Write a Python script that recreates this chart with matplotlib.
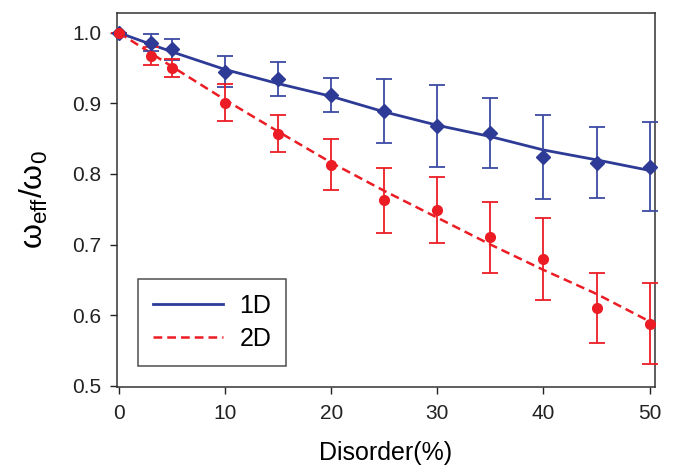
import matplotlib

matplotlib.use("Agg")
import matplotlib.pyplot as plt

plt.rcParams["font.family"] = ["Liberation Sans", "DejaVu Sans"]
plt.rcParams["mathtext.fontset"] = "custom"
plt.rcParams["mathtext.rm"] = "Liberation Sans"
plt.rcParams["mathtext.it"] = "Liberation Sans:italic"
plt.rcParams["mathtext.default"] = "regular"

# measured points
disorder = [0, 3, 5, 10, 15, 20, 25, 30, 35, 40, 45, 50]
omega_1d = [1.0, 0.986, 0.977, 0.945, 0.935, 0.912, 0.889, 0.868, 0.858, 0.824, 0.816, 0.810]
err_1d = [0.0, 0.012, 0.015, 0.022, 0.024, 0.024, 0.045, 0.058, 0.050, 0.059, 0.050, 0.063]
omega_2d = [1.0, 0.967, 0.950, 0.901, 0.857, 0.813, 0.763, 0.749, 0.710, 0.680, 0.610, 0.588]
err_2d = [0.0, 0.013, 0.013, 0.026, 0.026, 0.036, 0.046, 0.047, 0.050, 0.058, 0.050, 0.057]

# fitted curves
fit_x = [0, 5, 10, 15, 20, 25, 30, 35, 40, 45, 50]
fit_1d = [1.0, 0.973, 0.948, 0.928, 0.910, 0.888, 0.869, 0.853, 0.834, 0.820, 0.805]
fit_2d = [1.0, 0.952, 0.905, 0.860, 0.816, 0.776, 0.738, 0.700, 0.664, 0.630, 0.591]

BLUE = "#2e3b96"
RED = "#ec1c24"

fig = plt.figure(figsize=(6.74, 4.68), dpi=100)
ax = fig.add_axes([0.1736, 0.173, 0.798, 0.799])

line_1d, = ax.plot(fit_x, fit_1d, color=BLUE, lw=2.0, label="1D", zorder=3)
line_2d, = ax.plot(fit_x, fit_2d, color=RED, lw=1.8, dashes=(3.5, 2.0), label="2D", zorder=3)

ax.errorbar(disorder, omega_1d, yerr=err_1d, fmt="D", color=BLUE, ecolor="#3d4aa3",
            markersize=7, elinewidth=1.3, capsize=6, capthick=1.3, zorder=4, clip_on=False)
ax.errorbar(disorder, omega_2d, yerr=err_2d, fmt="o", color=RED, ecolor=RED,
            markersize=7, elinewidth=1.3, capsize=6, capthick=1.3, zorder=4, clip_on=False)

ax.set_xlim(-0.2, 50.5)
ax.set_ylim(0.498, 1.028)
ax.set_xticks([0, 10, 20, 30, 40, 50])
ax.set_yticks([0.5, 0.6, 0.7, 0.8, 0.9, 1.0])
ax.set_yticklabels(["0.5", "0.6", "0.7", "0.8", "0.9", "1.0"])
ax.tick_params(direction="out", length=5, width=1, labelsize=15, colors="#222222")
ax.tick_params(axis="x", pad=7)
ax.tick_params(axis="y", pad=6)
for spine in ax.spines.values():
    spine.set_linewidth(1.1)
    spine.set_color("#333333")

ax.set_xlabel("Disorder(%)", fontsize=18, labelpad=13)
ax.set_ylabel(r"$\omega_{eff}/\omega_0$", fontsize=23, labelpad=16)

leg = ax.legend(handles=[line_1d, line_2d], loc="lower left", bbox_to_anchor=(0, 0),
                fontsize=18, frameon=True, fancybox=False, handlelength=2.8,
                handletextpad=0.65, borderpad=0.6, labelspacing=0.35, borderaxespad=0.85)
leg.get_frame().set_edgecolor("#222222")
leg.get_frame().set_linewidth(1.1)

fig.savefig("out.png", dpi=100)
